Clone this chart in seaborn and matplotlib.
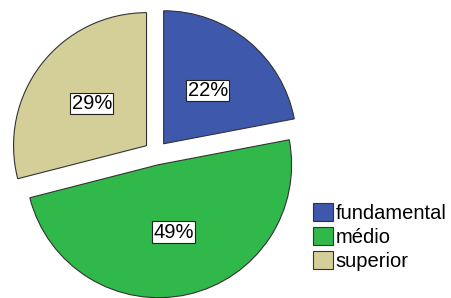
import matplotlib
matplotlib.use("Agg")
import matplotlib.pyplot as plt
import seaborn as sns

categories = ["fundamental", "médio", "superior"]
values = [22, 49, 29]
colors = ["#3E58AC", "#30B84A", "#D4CF98"]

sns.set_theme(style="white")
plt.rcParams["font.family"] = ["Liberation Sans", "DejaVu Sans"]
plt.rcParams["text.color"] = "black"

W, H = 452, 298
fig = plt.figure(figsize=(W / 100, H / 100), dpi=100)
# axes square 290x290 px centred at (156, 153 from top)
ax = fig.add_axes([11 / W, 0 / H, 290 / W, 290 / H])
R_px = 133
lim = 145 / R_px

wedges, texts, autotexts = ax.pie(
    values,
    colors=colors,
    startangle=90,
    counterclock=False,
    explode=[0.09] * len(values),
    autopct=lambda p: f"{p:.0f}%",
    pctdistance=0.52,
    wedgeprops=dict(edgecolor="#333333", linewidth=0.8),
    textprops=dict(fontsize=14.5, color="black"),
)
for t in autotexts:
    t.set_bbox(dict(boxstyle="square,pad=0.06", fc="white", ec="#222222", lw=0.8))

ax.set_xlim(-lim, lim)
ax.set_ylim(-lim, lim)
ax.set_aspect("equal")
ax.axis("off")

leg = fig.legend(
    wedges, categories,
    loc="upper left",
    bbox_to_anchor=(313 / W, 1 - 203 / H),
    frameon=False,
    fontsize=14.5,
    labelcolor="black",
    handlelength=1.0,
    handleheight=1.0,
    handletextpad=0.12,
    labelspacing=0.2,
    borderpad=0,
    borderaxespad=0,
)
for p in leg.get_patches():
    p.set_edgecolor("#333333")
    p.set_linewidth(0.8)

fig.savefig("out.png", dpi=100)
